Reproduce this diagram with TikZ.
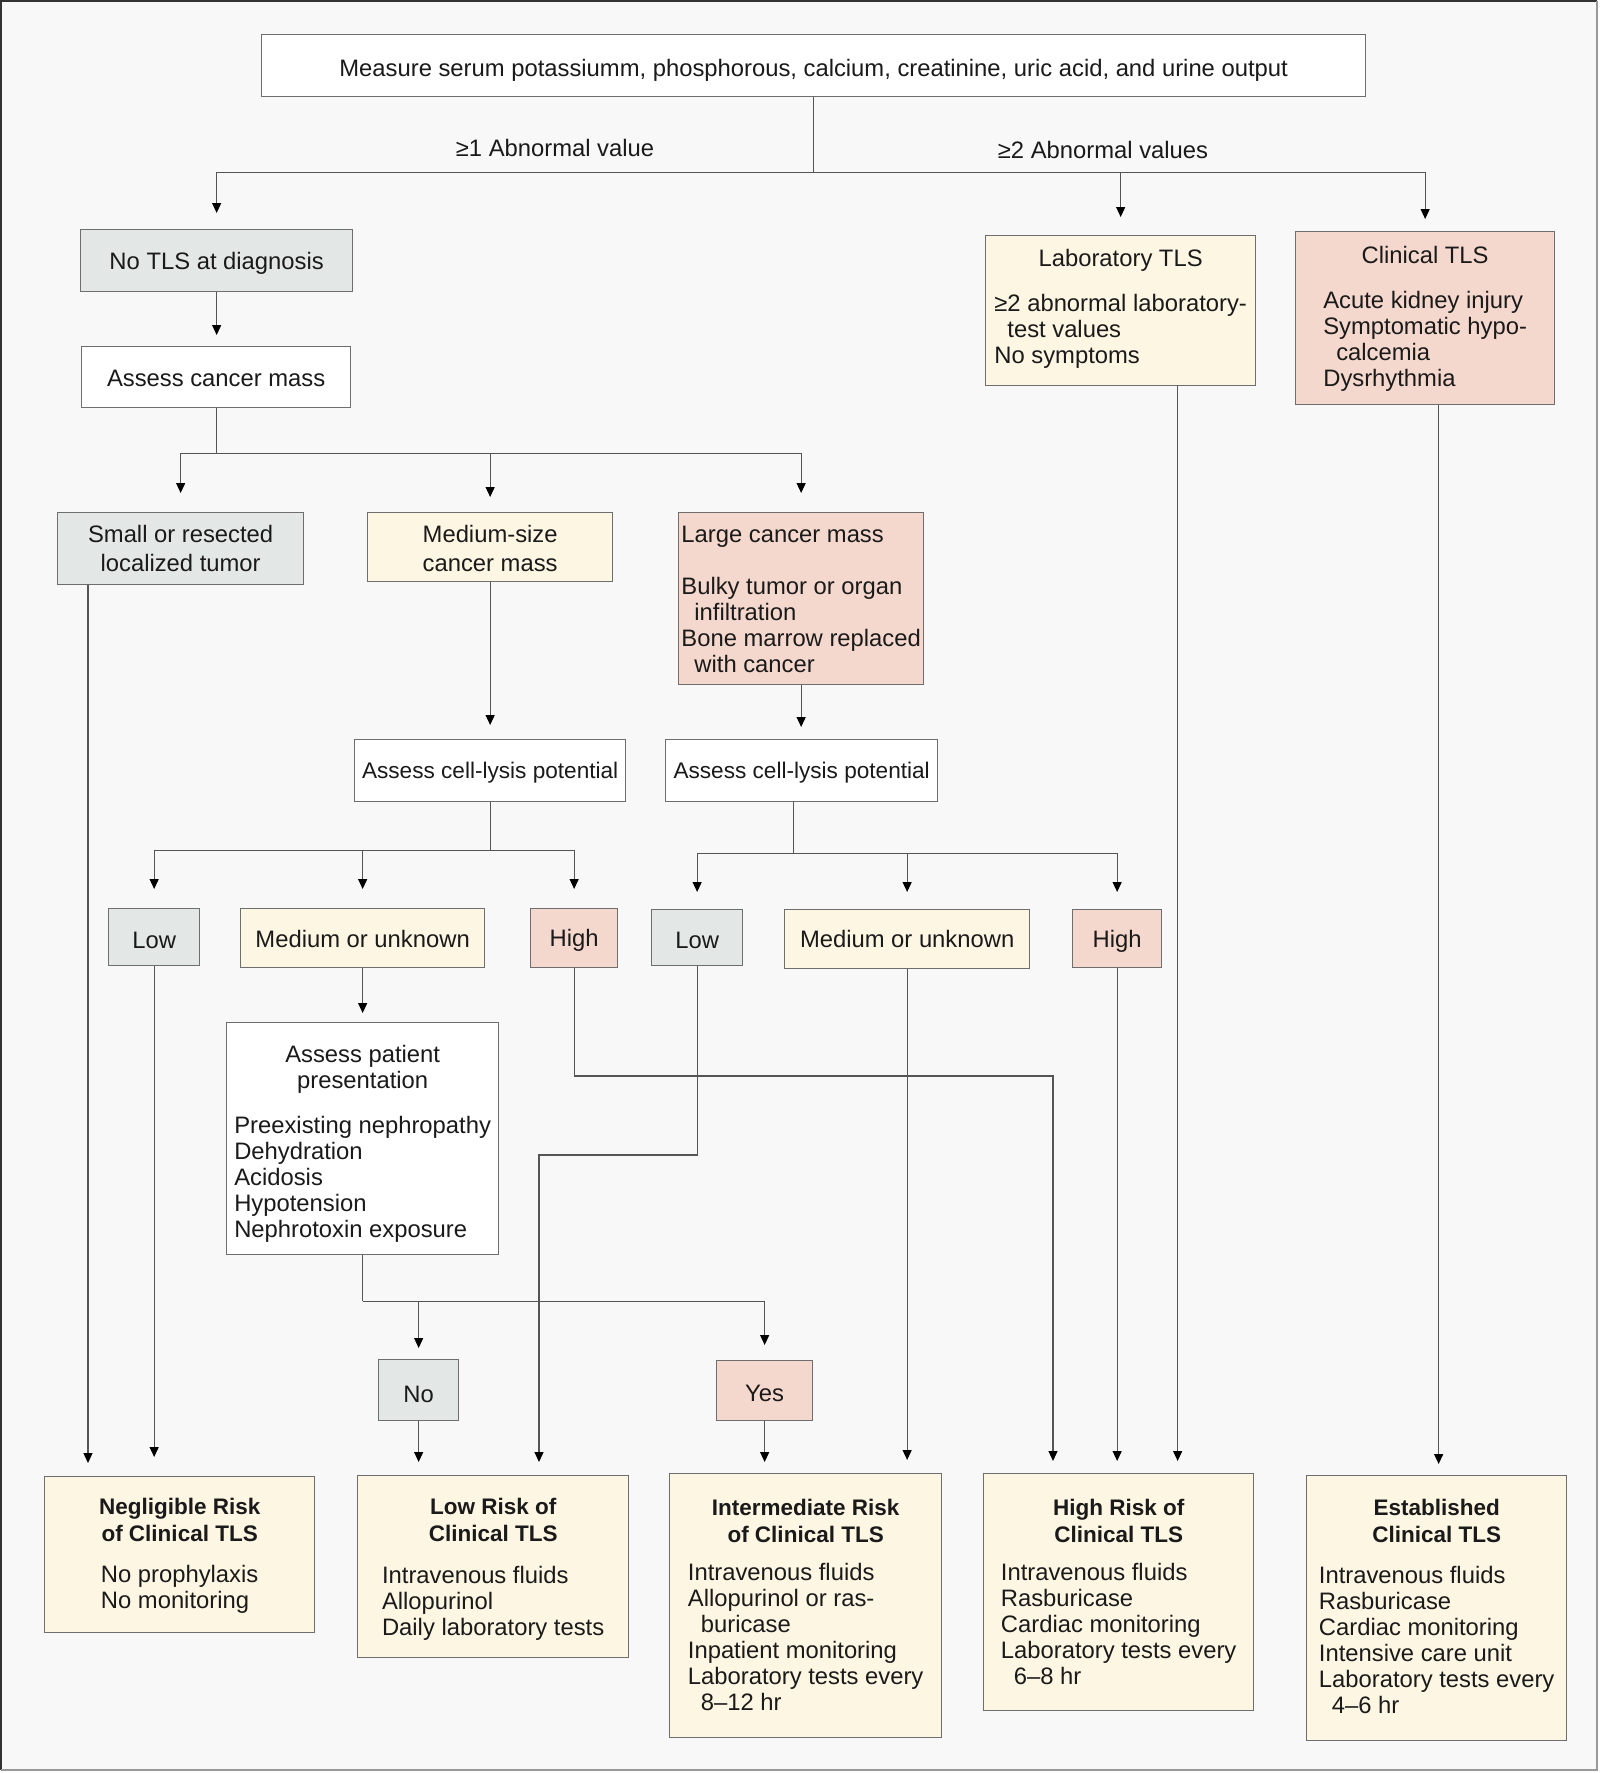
\documentclass[tikz,border=0pt]{standalone}
\usepackage{fontspec}
\setmainfont{Liberation Sans}
\usetikzlibrary{arrows.meta}
\definecolor{bgfill}{HTML}{F8F8F8}
\definecolor{boxline}{HTML}{6E6E6E}
\definecolor{conn}{HTML}{555555}
\definecolor{txt}{HTML}{1A1A1A}
\definecolor{gfill}{HTML}{E3E8E7}
\definecolor{yfill}{HTML}{FDF6E3}
\definecolor{pfill}{HTML}{F5D8CD}
\newcommand\fs{\fontsize{23.8}{26}\selectfont}
\newcommand\fsn{\fontsize{22.6}{26}\selectfont}
\newcommand\fb{\fontsize{22.5}{27}\selectfont\bfseries}
\newcommand\dn[1]{\rule{0pt}{#1}}
\begin{document}
\begin{tikzpicture}[x=1pt,y=-1pt,
  box/.style={draw=boxline, line width=1.3pt, inner sep=0pt, align=center, font=\fs, text=txt, anchor=north west},
  ln/.style={draw=conn, line width=1.2pt},
  arr/.style={ln, -{Triangle[length=10pt,width=9pt,color=black]}, shorten >=14pt},
  lbl/.style={font=\fs, text=txt, inner sep=0pt}
]
\useasboundingbox (0,0) rectangle (1600,1773);
\fill[bgfill] (1,1) rectangle (1597,1770);
\draw[line width=2pt, draw=black!80] (1,1770) -- (1,1) -- (1597,1);
\draw[line width=1.5pt, draw=black!40] (1597,1) -- (1597,1770) -- (1,1770);

% ---------- boxes ----------
\node[box, fill=white, minimum width=1104pt, minimum height=62pt] (top) at (261,34)
  {\dn{26.4pt}Measure serum potassiumm, phosphorous, calcium, creatinine, uric acid, and urine output};
\node[box, fill=gfill, minimum width=272pt, minimum height=62pt] (notls) at (80,229) {\dn{22pt}No TLS at diagnosis};
\node[box, fill=white, minimum width=269pt, minimum height=61pt] (assess) at (81,346) {\dn{19.5pt}Assess cancer mass};
\node[box, fill=gfill, minimum width=246pt, minimum height=72pt] (small) at (57,512) {Small or resected\\[3pt]localized tumor};
\node[box, fill=yfill, minimum width=245pt, minimum height=69pt] (medsize) at (367,512) {\dn{19.5pt}Medium-size\\[3pt]cancer mass};
\node[box, fill=pfill, minimum width=245pt, minimum height=172pt] (large) at (678,512)
  {\begin{tabular}[t]{@{}l@{}}\dn{25pt}Large cancer mass\\ \\Bulky tumor or organ\\\hspace*{13pt}infiltration\\Bone marrow replaced\\\hspace*{13pt}with cancer\end{tabular}};
\node[box, fill=white, minimum width=271pt, minimum height=62pt, font=\fsn] (lysisL) at (354,739) {\dn{19.5pt}Assess cell-lysis potential};
\node[box, fill=white, minimum width=272pt, minimum height=62pt, font=\fsn] (lysisR) at (665,739) {\dn{19.5pt}Assess cell-lysis potential};
\node[box, fill=gfill, minimum width=91pt, minimum height=57pt] (lowL) at (108,908) {\dn{22pt}Low};
\node[box, fill=yfill, minimum width=244pt, minimum height=59pt] (medL) at (240,908) {\dn{19.5pt}Medium or unknown};
\node[box, fill=pfill, minimum width=87pt, minimum height=59pt] (highL) at (530,908) {\dn{22pt}High};
\node[box, fill=gfill, minimum width=91pt, minimum height=56pt] (lowR) at (651,909) {\dn{22pt}Low};
\node[box, fill=yfill, minimum width=245pt, minimum height=59pt] (medR) at (784,909) {Medium or unknown};
\node[box, fill=pfill, minimum width=89pt, minimum height=58pt] (highR) at (1072,909) {\dn{22pt}High};
\node[box, fill=white, minimum width=272pt, minimum height=232pt] (patient) at (226,1022)
  {\dn{31pt}Assess patient\\presentation\\[19pt]\begin{tabular}[t]{@{}l@{}}Preexisting nephropathy\\Dehydration\\Acidosis\\Hypotension\\Nephrotoxin exposure\end{tabular}};
\node[box, fill=gfill, minimum width=80pt, minimum height=61pt] (no) at (378,1359) {\dn{24.2pt}No};
\node[box, fill=pfill, minimum width=96pt, minimum height=60pt] (yes) at (716,1360) {\dn{22pt}Yes};
\node[box, fill=yfill, minimum width=270pt, minimum height=150pt] (lab) at (985,235)
  {Laboratory TLS\\[19pt]\begin{tabular}[t]{@{}l@{}}≥2 abnormal laboratory-\\\hspace*{13pt}test values\\No symptoms\end{tabular}};
\node[box, fill=pfill, minimum width=259pt, minimum height=173pt] (clin) at (1295,231)
  {\dn{22pt}Clinical TLS\\[19pt]\begin{tabular}[t]{@{}l@{}}Acute kidney injury\\Symptomatic hypo-\\\hspace*{13pt}calcemia\\Dysrhythmia\end{tabular}};
\node[box, fill=yfill, minimum width=270pt, minimum height=156pt] (negl) at (44,1476)
  {{\fb\dn{22pt}Negligible Risk}\\[1pt]{\fb of Clinical TLS}\\[15pt]\begin{tabular}[t]{@{}l@{}}No prophylaxis\\No monitoring\end{tabular}};
\node[box, fill=yfill, minimum width=271pt, minimum height=182pt] (lowrisk) at (357,1475)
  {{\fb\dn{25.4pt}Low Risk of}\\[1pt]{\fb Clinical TLS}\\[16pt]\begin{tabular}[t]{@{}l@{}}Intravenous fluids\\Allopurinol\\Daily laboratory tests\end{tabular}};
\node[box, fill=yfill, minimum width=272pt, minimum height=264pt] (inter) at (669,1473)
  {{\fb\dn{23.2pt}Intermediate Risk}\\[1pt]{\fb of Clinical TLS}\\[12pt]\begin{tabular}[t]{@{}l@{}}Intravenous fluids\\Allopurinol or ras-\\\hspace*{13pt}buricase\\Inpatient monitoring\\Laboratory tests every\\\hspace*{13pt}8–12 hr\end{tabular}};
\node[box, fill=yfill, minimum width=270pt, minimum height=237pt] (highrisk) at (983,1473)
  {{\fb\dn{23.2pt}High Risk of}\\[1pt]{\fb Clinical TLS}\\[12pt]\begin{tabular}[t]{@{}l@{}}Intravenous fluids\\Rasburicase\\Cardiac monitoring\\Laboratory tests every\\\hspace*{13pt}6–8 hr\end{tabular}};
\node[box, fill=yfill, minimum width=260pt, minimum height=265pt] (estab) at (1306,1475)
  {{\fb\dn{20.5pt}Established}\\[1pt]{\fb Clinical TLS}\\[15pt]\begin{tabular}[t]{@{}l@{}}Intravenous fluids\\Rasburicase\\Cardiac monitoring\\Intensive care unit\\Laboratory tests every\\\hspace*{13pt}4–6 hr\end{tabular}};

% ---------- labels ----------
\node[lbl] (abn1) at (555,148) {≥1 Abnormal value};
\node[lbl] (abn2) at (1103,150) {≥2 Abnormal values};

% ---------- connectors ----------
\draw[ln] (top.south) -- ++(0,75) coordinate (j1);
\draw[arr, shorten >=16pt] (j1) -| (notls.north);
\draw[arr, shorten >=18pt] (j1) -| (lab.north);
\draw[arr, shorten >=12pt] (j1) -| (clin.north);

\draw[arr, shorten >=11pt] (notls.south) -- (notls.south |- assess.north);

\draw[ln] (assess.south) -- ++(0,45) coordinate (j2);
\draw[arr, shorten >=19pt] (j2) -| (small.north);
\draw[arr, shorten >=15pt] (j2) -| (medsize.north);
\draw[arr, shorten >=19pt] (j2) -| (large.north);

\draw[arr, shorten >=14pt] (medsize.south) -- (medsize.south |- lysisL.north);
\draw[arr, shorten >=12pt] (large.south) -- (large.south |- lysisR.north);

\draw[ln] (lysisL.south) -- ++(0,48) coordinate (j3);
\draw[arr, shorten >=19pt] (j3) -| (lowL.north);
\draw[arr, shorten >=19pt] (j3) -| (medL.north);
\draw[arr, shorten >=19pt] (j3) -| (highL.north);

\draw[ln] ([xshift=-8pt]lysisR.south) -- ++(0,51) coordinate (j4);
\draw[arr, shorten >=17pt] (j4) -| (lowR.north);
\draw[arr, shorten >=17pt] (j4) -| (medR.north);
\draw[arr, shorten >=17pt] (j4) -| (highR.north);

\draw[arr, shorten >=9pt] (medL.south) -- (medL.south |- patient.north);

\draw[ln] (patient.south) -- ++(0,46) coordinate (j5);
\draw[arr, shorten >=11pt] (j5) -| (no.north);
\draw[arr, shorten >=15pt] (j5) -| (yes.north);

\coordinate (s1) at ([xshift=31pt]small.south west);
\draw[arr, shorten >=13pt] (s1) -- (s1 |- negl.north);
\draw[arr, shorten >=19pt] (lowL.south) -- (lowL.south |- negl.north);

\draw[arr, shorten >=13pt] (no.south) -- (no.south |- lowrisk.north);
\coordinate (c1) at (539,1155);
\draw[arr, shorten >=13pt] (lowR.south) |- (c1) -- (c1 |- lowrisk.north);

\draw[arr, shorten >=11pt] (yes.south) -- (yes.south |- inter.north);
\draw[arr, shorten >=13pt] (medR.south) -- (medR.south |- inter.north);

\coordinate (c2) at (1053,1076);
\draw[arr, shorten >=12pt] (highL.south) |- (c2) -- (c2 |- highrisk.north);
\draw[arr, shorten >=12pt] (highR.south) -- (highR.south |- highrisk.north);
\coordinate (c3) at ([xshift=57pt]lab.south);
\draw[arr, shorten >=12pt] (c3) -- (c3 |- highrisk.north);

\coordinate (c4) at ([xshift=13.5pt]clin.south);
\draw[arr, shorten >=11pt] (c4) -- (c4 |- estab.north);
\end{tikzpicture}
\end{document}
